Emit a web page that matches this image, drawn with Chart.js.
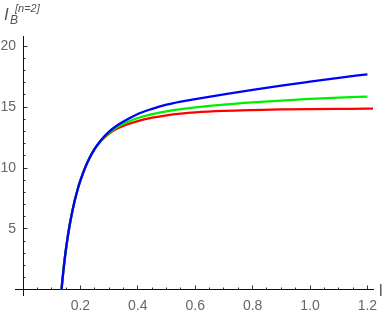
<!DOCTYPE html>
<html><head><meta charset="utf-8">
<script src="https://cdn.jsdelivr.net/npm/chart.js@4/dist/chart.umd.min.js"></script>
<style>
html,body{margin:0;padding:0;background:#fff;}
#wrap{position:relative;width:388px;height:319px;}
canvas{position:absolute;left:0;top:0;}
.lab{position:absolute;font-family:"Liberation Sans",Arial,sans-serif;color:#555;line-height:1;white-space:nowrap;}
</style>
</head><body>
<div id="wrap">
<canvas id="c" width="388" height="319"></canvas>
<span class="lab" style="left:4px;top:6px;font-size:17px;font-style:italic;">I</span>
<span class="lab" style="left:10px;top:14px;font-size:12px;font-style:italic;">B</span>
<span class="lab" style="left:15px;top:3px;font-size:11px;font-style:italic;">[n=2]</span>
<span class="lab" style="left:379px;top:283px;font-size:16px;">l</span>
</div>
<script>
// l values (x) shared by all three curves
const lValues     = [0.134,0.137,0.14,0.145,0.15,0.16,0.17,0.18,0.19,0.2,0.215,0.23,0.25,0.27,0.3,0.33,0.36,0.4,0.45,0.5,0.55,0.6,0.7,0.8,0.9,1.0,1.1,1.2];
const blueValues  = [0,0.75,1.45,2.5,3.42,4.98,6.25,7.32,8.22,8.98,9.95,10.74,11.58,12.24,12.98,13.52,13.94,14.43,14.85,15.2,15.45,15.65,16.04,16.41,16.76,17.08,17.39,17.68];
const greenValues = [0,0.75,1.45,2.5,3.42,4.98,6.25,7.32,8.22,8.98,9.95,10.74,11.57,12.21,12.9,13.38,13.74,14.1,14.42,14.65,14.83,14.97,15.2,15.38,15.53,15.66,15.77,15.85];
const redValues   = [0,0.75,1.45,2.5,3.42,4.98,6.25,7.32,8.22,8.98,9.95,10.74,11.56,12.18,12.82,13.25,13.55,13.85,14.12,14.32,14.46,14.56,14.68,14.75,14.8,14.83,14.85,14.86];
const redExtraL = [1.22];
const redExtraV = [14.865];

const xMajorTicks = [0.2,0.4,0.6,0.8,1.0,1.2];
const xTickLabels = ['0.2','0.4','0.6','0.8','1.0','1.2'];
const yMajorTicks = [5,10,15,20];
const yTickLabels = ['5','10','15','20'];

const X_MIN = -0.028, X_MAX = 1.2195, Y_MIN = -0.41, Y_MAX = 20.82;

const pts = (xs, ys) => xs.map((x, i) => ({x: x, y: ys[i]}));

const font = {family: '"Liberation Sans", Arial, sans-serif', size: 14};
const noPad = s => { s.paddingLeft = 0; s.paddingRight = 0; s.paddingTop = 0; s.paddingBottom = 0; };

new Chart(document.getElementById('c'), {
  type: 'line',
  data: {
    datasets: [
      {data: pts(lValues, blueValues), borderColor: '#0000ff', borderWidth: 2.3},
      {data: pts(lValues, greenValues), borderColor: '#00ee00', borderWidth: 2.3},
      {data: pts(lValues.concat(redExtraL), redValues.concat(redExtraV)), borderColor: '#ff0000', borderWidth: 2.3}
    ]
  },
  options: {
    responsive: false,
    animation: false,
    events: [],
    layout: {padding: {left: 15, right: 15, top: 36, bottom: 24}},
    elements: {point: {radius: 0}, line: {cubicInterpolationMode: 'monotone', fill: false}},
    plugins: {legend: {display: false}, tooltip: {enabled: false}, title: {display: false}},
    scales: {
      x: {
        type: 'linear', min: X_MIN, max: X_MAX, position: {y: 0},
        border: {display: true, color: '#111', width: 1},
        grid: {display: true, drawOnChartArea: false, drawTicks: true, tickLength: -4.5, tickColor: '#333', tickWidth: 1},
        ticks: {color: '#666', font: font, padding: 12, maxRotation: 0, autoSkip: false,
          callback: (v, i) => xTickLabels[i]},
        afterBuildTicks: s => { s.ticks = xMajorTicks.map(v => ({value: v})); },
        afterFit: noPad
      },
      xMinor: {
        type: 'linear', axis: 'x', min: X_MIN, max: X_MAX, position: {y: 0},
        border: {display: false},
        grid: {display: true, drawOnChartArea: false, drawTicks: true, tickLength: -2.5, tickColor: '#333', tickWidth: 1},
        ticks: {display: false, stepSize: 0.05},
        afterBuildTicks: s => { s.ticks = s.ticks.filter(t => t.value > 0.01 && t.value < 1.2 + 1e-6); },
        afterFit: noPad
      },
      y: {
        type: 'linear', min: Y_MIN, max: Y_MAX, position: {x: 0},
        border: {display: true, color: '#111', width: 1},
        grid: {display: true, drawOnChartArea: false, drawTicks: true, tickLength: -4.5, tickColor: '#333', tickWidth: 1},
        ticks: {color: '#666', font: font, autoSkip: false,
          callback: (v, i) => yTickLabels[i] + '\u2002'},
        afterBuildTicks: s => { s.ticks = yMajorTicks.map(v => ({value: v})); },
        afterFit: noPad
      },
      yMinor: {
        type: 'linear', axis: 'y', min: Y_MIN, max: Y_MAX, position: {x: 0},
        border: {display: false},
        grid: {display: true, drawOnChartArea: false, drawTicks: true, tickLength: -2.5, tickColor: '#333', tickWidth: 1},
        ticks: {display: false, stepSize: 1},
        afterBuildTicks: s => { s.ticks = s.ticks.filter(t => t.value > 0.5 && t.value < 20.5); },
        afterFit: noPad
      }
    }
  }
});
</script>
</body></html>
